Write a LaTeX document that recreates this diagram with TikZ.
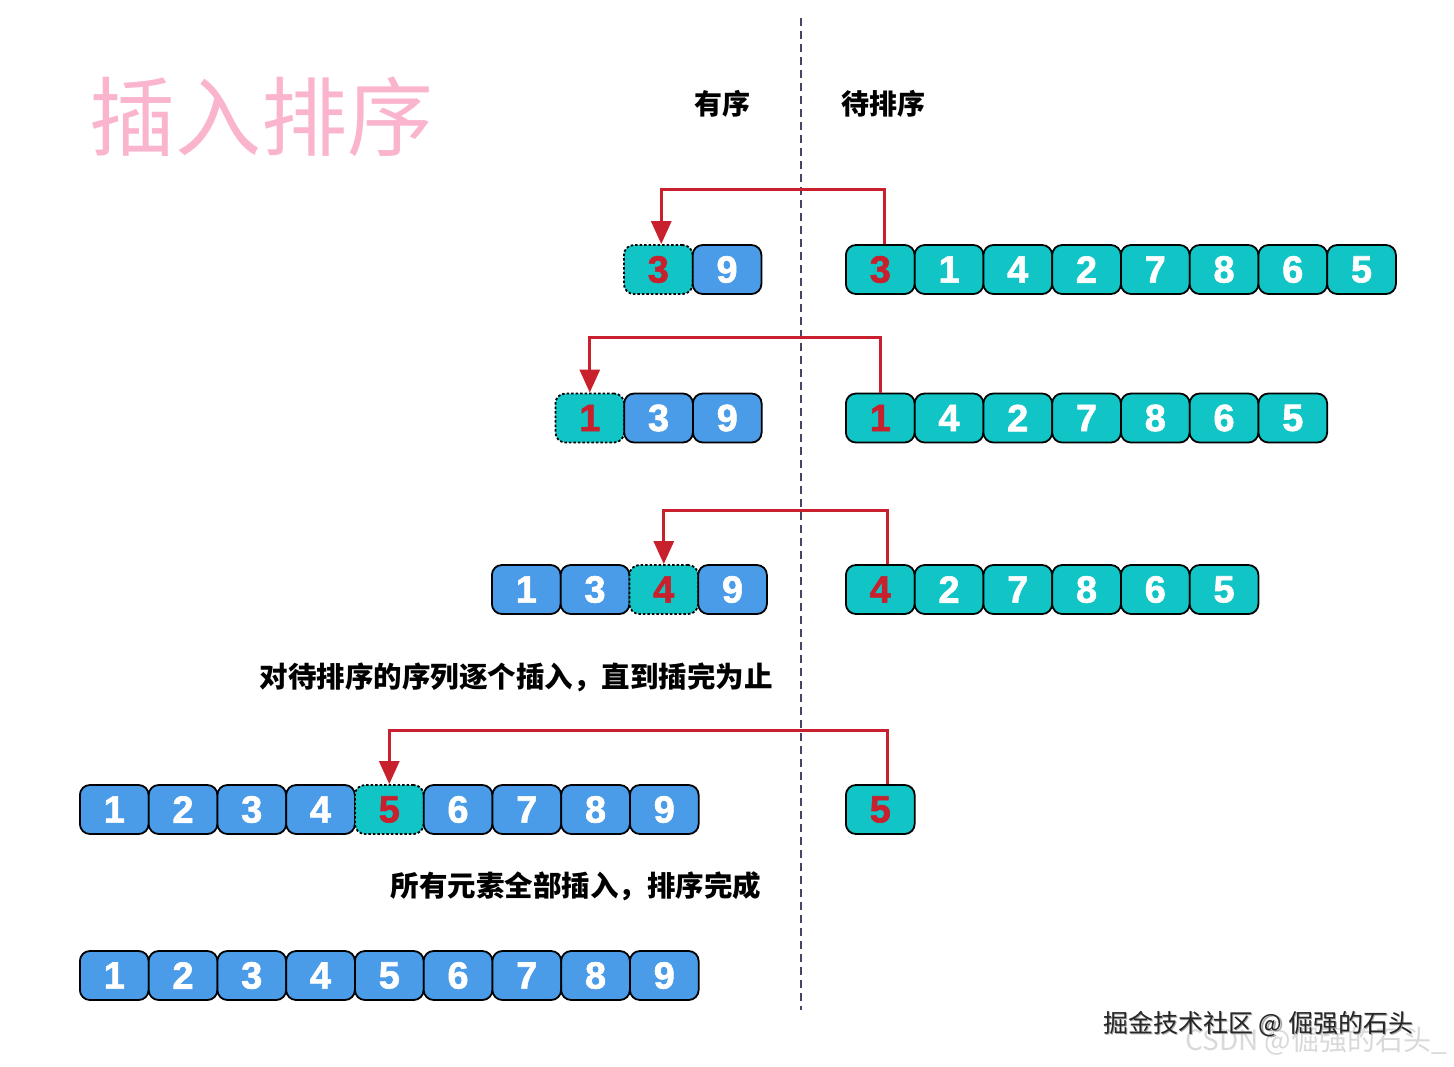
\documentclass[tikz,border=0pt]{standalone}
\usepackage{fontspec}
\setmainfont{Liberation Sans}
\newfontfamily\cjk{Noto Sans CJK SC}
\newfontfamily\numfont[FakeBold=1.6]{Liberation Sans Bold}
\usetikzlibrary{arrows.meta,calc}
\definecolor{myblue}{RGB}{74,155,232}
\definecolor{myteal}{RGB}{17,197,198}
\definecolor{myred}{RGB}{200,32,45}
\definecolor{mypink}{RGB}{250,180,205}
\definecolor{dashc}{RGB}{70,70,100}
\tikzset{
  cell/.style={draw=black, line width=1.8pt, rounded corners=10pt,
    minimum width=68.75pt, minimum height=49pt, inner sep=0pt,
    font=\numfont\fontsize{38}{38}\selectfont, anchor=west},
  bluecell/.style={cell, fill=myblue, text=white},
  tealcell/.style={cell, fill=myteal, text=white},
  newcell/.style={cell, fill=myteal, text=myred},
  inscell/.style={cell, fill=myteal, text=myred, dash pattern=on 2.5pt off 2pt},
  arr/.style={draw=myred, line width=3pt, -{Triangle[length=23pt,width=20pt]}},
  lbl/.style={font=\cjk\bfseries\fontsize{28}{28}\selectfont, inner sep=0pt},
  note/.style={font=\cjk\bfseries\fontsize{28.5}{28.5}\selectfont, inner sep=0pt}
}
\begin{document}
\begin{tikzpicture}[x=1pt,y=-1pt]
\useasboundingbox (0,0) rectangle (1454,1066);
\fill[white] (0,0) rectangle (1454,1066);
% title
\node[font=\cjk\fontsize{86}{86}\selectfont, text=mypink, inner sep=0pt] (title) at (261,117) {插入排序};
% dashed divider
\coordinate (dtop) at (801,18);
\coordinate (dbot) at (801,1010);
\draw[dashc, line width=1.8pt, dash pattern=on 8pt off 5pt] (dtop) -- (dbot);
% headings
\node[lbl] (sorted) at (722,104) {有序};
\node[lbl] (unsorted) at (883,104) {待排序};
% ---- row 1
\node[inscell] (a1) at (623,269.5) {3};
\node[bluecell] (a2) at (691.75,269.5) {9};
\node[newcell] (b1) at (845,269.5) {3};
\foreach \v [count=\i from 2] in {1,4,2,7,8,6,5}
  \node[tealcell] (b\i) at ({845+68.75*(\i-1)},269.5) {\v};
\draw[arr] ($(b1.north)+(4,0)$) -- ++(0,-55) -| ($(a1.north)+(3,0)$);
% ---- row 2
\node[inscell] (c1) at (554.5,418) {1};
\node[bluecell] (c2) at (623.25,418) {3};
\node[bluecell] (c3) at (692,418) {9};
\node[newcell] (d1) at (845,418) {1};
\foreach \v [count=\i from 2] in {4,2,7,8,6,5}
  \node[tealcell] (d\i) at ({845+68.75*(\i-1)},418) {\v};
\draw[arr] (d1.north) -- ++(0,-55) -| (c1.north);
% ---- row 3
\node[bluecell] (e1) at (491,589.5) {1};
\node[bluecell] (e2) at (559.75,589.5) {3};
\node[inscell] (e3) at (628.5,589.5) {4};
\node[bluecell] (e4) at (697.25,589.5) {9};
\node[newcell] (f1) at (845,589.5) {4};
\foreach \v [count=\i from 2] in {2,7,8,6,5}
  \node[tealcell] (f\i) at ({845+68.75*(\i-1)},589.5) {\v};
\draw[arr] ($(f1.north)+(7,0)$) -- ++(0,-54) -| (e3.north);
\node[note] (note1) at (516,677) {对待排序的序列逐个插入，直到插完为止};
% ---- row 4
\foreach \v [count=\i] in {1,2,3,4}
  \node[bluecell] (g\i) at ({79+68.75*(\i-1)},809.5) {\v};
\node[inscell] (g5) at ({79+68.75*4},809.5) {5};
\foreach \v [count=\i from 6] in {6,7,8,9}
  \node[bluecell] (g\i) at ({79+68.75*(\i-1)},809.5) {\v};
\node[newcell] (h1) at (845,809.5) {5};
\draw[arr] ($(h1.north)+(7,0)$) -- ++(0,-54) -| (g5.north);
\node[note] (note2) at (576,886) {所有元素全部插入，排序完成};
% ---- row 5
\foreach \v [count=\i] in {1,2,3,4,5,6,7,8,9}
  \node[bluecell] (k\i) at ({79+68.75*(\i-1)},975.5) {\v};
% watermarks
\node[font=\cjk\fontsize{28}{28}\selectfont, text=black!15, inner sep=0pt, anchor=west] (wm2) at (1185,1041) {CSDN @倔强的石头\_};
\node[font=\cjk\fontsize{25}{25}\selectfont, text=black!35, inner sep=0pt, anchor=west] (wm1s) at (1104.5,1025.5) {掘金技术社区 @ 倔强的石头};
\node[font=\cjk\fontsize{25}{25}\selectfont, text=black!85, inner sep=0pt, anchor=west] (wm1) at (1103,1024) {掘金技术社区 @ 倔强的石头};
\end{tikzpicture}
\end{document}
